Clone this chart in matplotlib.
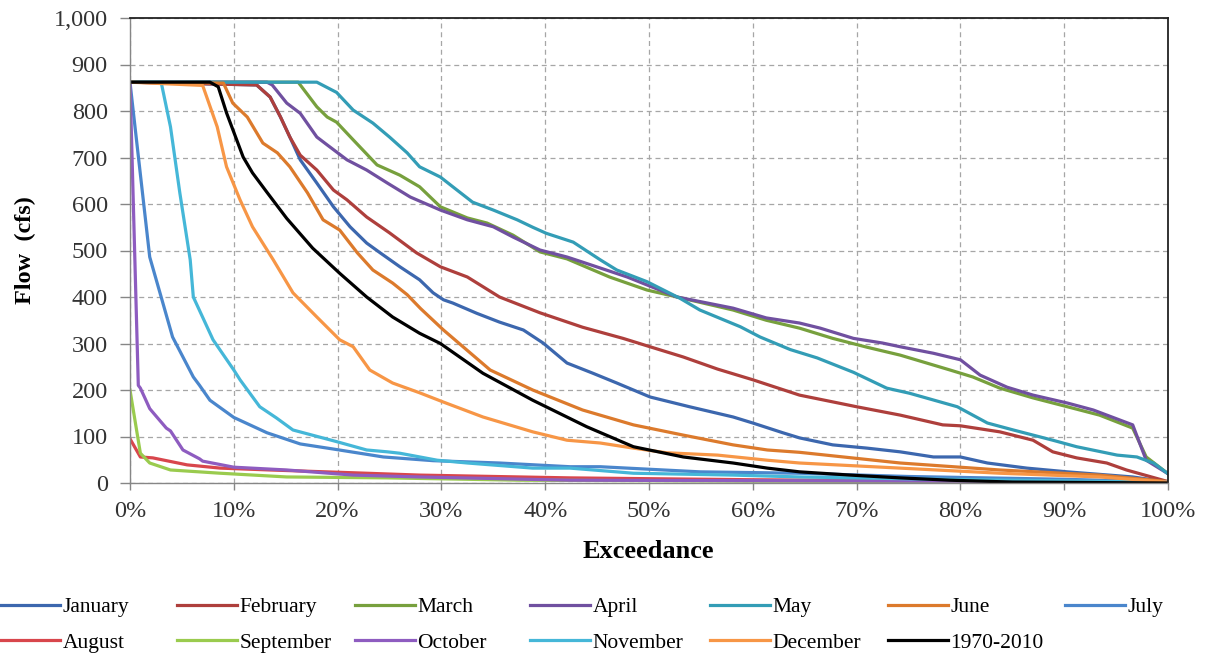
import matplotlib
matplotlib.use("Agg")
import matplotlib.pyplot as plt
from matplotlib.ticker import FuncFormatter

plt.rcParams['font.family'] = ['Liberation Serif', 'DejaVu Serif']

# ---------------- data (exceedance %, flow cfs) ----------------
jan_x = [0, 12.2, 13.5, 14.5, 15.4, 16.4, 18, 19.6, 21.2, 22.8, 24.1, 26, 27.9, 29.2, 30.2, 31.1, 33.4, 35.6, 37.9, 39.8, 42.1, 44.6, 46.9, 50.1, 53.9, 58.1, 60, 62.9, 64.5, 67.7, 71, 74.2, 77.4, 80, 82.6, 86.4, 90.3, 96.6, 100]
jan_y = [862, 856, 830, 787, 744, 695, 645, 594, 551, 516, 495, 465, 437, 409, 394, 387, 365, 346, 329, 301, 258, 236, 215, 185, 164, 142, 129, 108, 97, 82, 75, 67, 56, 56, 43, 32, 24, 13, 2]

feb_x = [0, 12.2, 13.5, 14.5, 15.4, 16.4, 18, 19.6, 20.9, 22.8, 25, 27.6, 29.9, 32.5, 35.6, 39.5, 43.6, 47.5, 50.1, 53.3, 56.6, 60, 64.5, 70, 74.2, 78.3, 80, 83.8, 87, 88.9, 91.2, 94.1, 96, 100]
feb_y = [862, 856, 830, 787, 744, 705, 673, 630, 609, 572, 538, 495, 465, 443, 400, 366, 335, 311, 293, 271, 245, 222, 189, 164, 146, 125, 123, 110, 92, 67, 54, 43, 28, 3]

mar_x = [0, 16.2, 18, 19, 19.9, 21.5, 23.8, 26, 27.9, 29.9, 32.5, 34.4, 36.9, 39.5, 42.1, 46.2, 49.8, 52.7, 58.1, 61.3, 64.5, 67.7, 71, 74.2, 79, 81.2, 83.8, 87, 90.3, 93.4, 96.6, 97.9, 100]
mar_y = [862, 862, 809, 787, 776, 738, 684, 662, 637, 594, 570, 559, 533, 497, 482, 443, 415, 400, 372, 350, 333, 311, 292, 275, 243, 228, 204, 183, 164, 146, 118, 56, 20]

apr_x = [0, 13.2, 13.7, 15.1, 16.4, 18, 19, 20.9, 22.8, 24.8, 27, 29.9, 32.5, 35, 36.9, 39.5, 42.1, 43.6, 47.9, 52.7, 58.1, 61.3, 64.5, 66.5, 69.7, 72.5, 74.2, 77.4, 80, 81.9, 84.5, 87, 90.3, 92.8, 96.6, 97.9, 100]
apr_y = [862, 862, 856, 817, 795, 744, 727, 695, 673, 645, 615, 587, 566, 551, 529, 501, 486, 475, 443, 400, 376, 355, 344, 333, 311, 301, 293, 279, 265, 232, 206, 189, 172, 157, 125, 49, 20]

may_x = [0, 18, 19.9, 21.5, 23.4, 25, 26.7, 27.9, 29.9, 31.1, 33, 35, 37.3, 38.8, 40.1, 42.7, 45.3, 46.9, 49.8, 53, 54.9, 58.8, 60.7, 63.6, 66.2, 69.7, 72.9, 75.1, 79.7, 82.6, 85.1, 88.9, 91.2, 95.1, 97, 98.6, 100]
may_y = [862, 862, 840, 802, 774, 744, 710, 680, 658, 637, 604, 587, 566, 550, 537, 518, 480, 458, 433, 397, 372, 336, 314, 287, 269, 238, 204, 193, 164, 129, 114, 92, 78, 60, 56, 43, 20]

jun_x = [0, 9, 9.9, 11.3, 12.8, 14.2, 15.4, 17.1, 18.6, 20.2, 21.9, 23.4, 25.3, 26.7, 28, 30.2, 34.7, 38.8, 43.6, 48.5, 53.3, 58.1, 61.4, 64.5, 74.2, 83.8, 93.4, 100]
jun_y = [862, 860, 817, 787, 731, 710, 680, 624, 566, 544, 495, 458, 430, 405, 375, 329, 243, 200, 157, 125, 103, 82, 71, 66, 43, 28, 17, 3]

jul_x = [0, 0.3, 1.9, 2.9, 4.1, 6.1, 6.7, 7.7, 10, 13.2, 16.4, 19.6, 24.4, 29.2, 35.6, 42.4, 45.3, 54.9, 64.5, 75, 90, 100]
jul_y = [862, 802, 486, 408, 314, 228, 210, 178, 141, 108, 84, 73, 56, 48, 43, 35, 35, 24, 21, 14, 8, 2]

aug_x = [0, 1, 2.2, 5.5, 8.7, 13.5, 21.5, 27.9, 42.4, 60, 80, 100]
aug_y = [95, 56, 54, 39, 32, 28, 22, 17, 11, 7, 4, 1]

sep_x = [0, 1, 1.9, 3.9, 8.7, 15.1, 24.8, 37.6, 60, 80, 100]
sep_y = [200, 64, 43, 28, 21, 13, 11, 6, 4, 3, 2]

oct_x = [0, 0.8, 1, 1.9, 2.2, 3.5, 3.9, 5.1, 6.7, 7, 10, 15.1, 21.5, 27.9, 42.4, 60, 80, 100]
oct_y = [862, 210, 204, 160, 152, 118, 112, 71, 52, 47, 34, 28, 17, 13, 6, 5, 4, 3]

nov_x = [0, 3, 3.9, 4.8, 5.8, 6.1, 8, 10, 10.6, 12.5, 14.1, 15.7, 19.9, 22.8, 24.8, 26, 29.6, 32.5, 38.8, 42.4, 48.5, 58.1, 64.5, 75, 85, 100]
nov_y = [862, 862, 766, 624, 480, 400, 308, 243, 222, 164, 140, 114, 89, 71, 67, 64, 49, 43, 32, 32, 21, 17, 13, 9, 6, 2]

dec_x = [0, 7, 8.4, 9.3, 10.6, 11.8, 13.8, 15.7, 18, 20.2, 21.5, 23.1, 25.3, 27.9, 30.2, 34, 38.8, 42.1, 45.3, 48.5, 51.7, 56.6, 61.4, 64.5, 74.2, 83.8, 93.4, 100]
dec_y = [862, 855, 766, 680, 609, 551, 480, 409, 357, 308, 293, 243, 215, 194, 174, 142, 110, 92, 86, 75, 65, 60, 49, 43, 32, 21, 13, 2]

all_x = [0, 7.7, 8.5, 9.3, 10.9, 11.8, 13.2, 15.1, 17.6, 20.2, 22.8, 25.3, 27.9, 29.9, 34, 38.8, 44, 48.5, 53.3, 58.1, 61.4, 64.5, 69.4, 74.2, 79, 85, 100]
all_y = [862, 862, 852, 796, 701, 667, 625, 569, 505, 451, 400, 357, 322, 300, 236, 178, 121, 78, 56, 43, 32, 24, 17, 11, 6, 2, 0]

labels = ['January', 'February', 'March', 'April', 'May', 'June', 'July',
          'August', 'September', 'October', 'November', 'December', '1970-2010']
colors = ['#3C67AE', '#AE3F3C', '#77A03D', '#7050A0', '#339DB6', '#DC7A2C', '#4A86CC',
          '#D8464C', '#9ACB4E', '#8E5CC0', '#45B7D8', '#F79646', '#000000']
series = [(jan_x, jan_y), (feb_x, feb_y), (mar_x, mar_y), (apr_x, apr_y), (may_x, may_y),
          (jun_x, jun_y), (jul_x, jul_y), (aug_x, aug_y), (sep_x, sep_y), (oct_x, oct_y),
          (nov_x, nov_y), (dec_x, dec_y), (all_x, all_y)]

x_ticks = [0, 10, 20, 30, 40, 50, 60, 70, 80, 90, 100]
y_ticks = [0, 100, 200, 300, 400, 500, 600, 700, 800, 900, 1000]

# ---------------- figure ----------------
W, H = 1207, 656
fig = plt.figure(figsize=(W / 100, H / 100), dpi=100)
ax = fig.add_axes([130 / W, 1 - 483 / H, (1168 - 130) / W, (483 - 18) / H])

handles = []
for (xs, ys), lab, c in zip(series, labels, colors):
    ln, = ax.plot(xs, ys, color=c, lw=2.3, label=lab, solid_joinstyle='round')
    handles.append(ln)

ax.set_xlim(0, 100)
ax.set_ylim(0, 1000)
ax.set_xticks(x_ticks)
ax.set_yticks(y_ticks)
ax.xaxis.set_major_formatter(FuncFormatter(lambda v, p: f"{int(v)}%"))
ax.yaxis.set_major_formatter(FuncFormatter(lambda v, p: f"{int(v):,}"))

ax.grid(True, color='#A6A6A6', lw=0.9, linestyle=(0, (4, 3)))
ax.set_axisbelow(True)
for s in ['left', 'bottom']:
    ax.spines[s].set_color('#868686')
    ax.spines[s].set_linewidth(1.0)
for s in ['top', 'right']:
    ax.spines[s].set_color('#222222')
    ax.spines[s].set_linewidth(1.3)

ax.tick_params(axis='y', direction='out', length=7, width=1, color='#868686',
               pad=9, labelsize=17.5, labelcolor='#333333')
ax.tick_params(axis='x', direction='out', length=5, width=1, color='#868686',
               pad=8, labelsize=17.5, labelcolor='#333333')

fig.text(25 / W, 1 - 250 / H, 'Flow  (cfs)', rotation=90, ha='center', va='center',
         fontsize=17.5, fontweight='bold')
fig.text(648 / W, 1 - 551 / H, 'Exceedance', ha='center', va='center',
         fontsize=19, fontweight='bold')

# legend: 7 columns at fixed positions, 2 rows
col_x = [0, 177, 355, 530, 710, 888, 1065]
for i, cx in enumerate(col_x):
    hs = [handles[i]]
    if i + 7 < len(handles):
        hs.append(handles[i + 7])
    fig.legend(handles=hs, labels=[h.get_label() for h in hs], loc='upper left',
               bbox_to_anchor=(cx / W, 1 - 597 / H), frameon=False, fontsize=15.5,
               handlelength=2.8, handletextpad=0.1, borderpad=0, borderaxespad=0,
               labelspacing=0.72)

fig.savefig('out.png', dpi=100)
